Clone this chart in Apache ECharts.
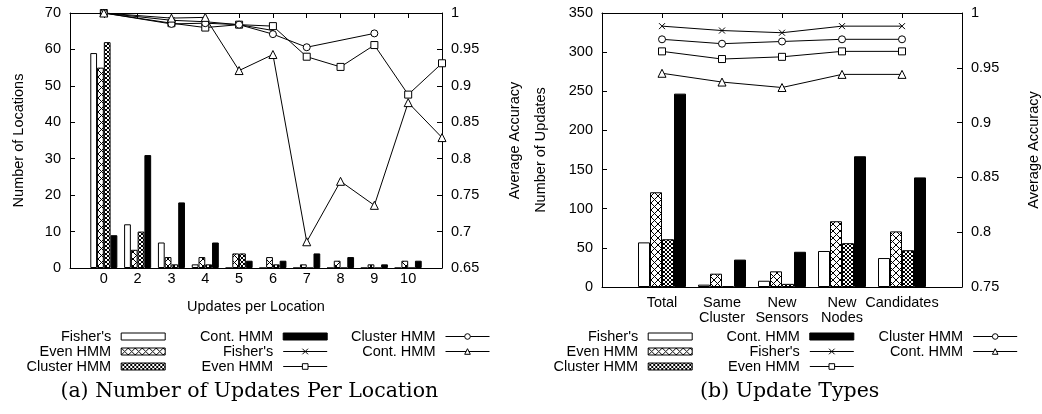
<!DOCTYPE html>
<html>
<head>
<meta charset="utf-8">
<script src="https://cdn.jsdelivr.net/npm/echarts@6/dist/echarts.min.js"></script>
<style>
  html, body { margin: 0; padding: 0; background: #fff; }
  #chart { width: 1042px; height: 414px; }
</style>
</head>
<body>
<div id="chart"></div>
<script>
// (a) Number of updates per location
const updateLabels = ['', '0', '2', '3', '4', '5', '6', '7', '8', '9', '10', ''];
const locFisher  = [null, 59, 12, 7, 1, 0, 0, 0, 0, 0, 0, null];
const locEven    = [null, 55, 5, 3, 3, 4, 3, 1, 2, 1, 2, null];
const locCluster = [null, 62, 10, 1, 1, 4, 1, 0, 0, 0, 0, null];
const locCont    = [null, 9, 31, 18, 7, 2, 2, 4, 3, 1, 2, null];
const accFisher  = [null, 1.0, null, 0.990, 0.988, 0.984, 0.976, null, null, null, null, null];
const accEven    = [null, 1.0, null, 0.986, 0.980, 0.984, 0.982, 0.940, 0.926, 0.956, 0.888, 0.931];
const accCluster = [null, 1.0, null, 0.985, 0.986, 0.984, 0.971, 0.953, null, 0.972, null, null];
const accCont    = [null, 1.0, null, 0.993, 0.994, 0.921, 0.943, 0.686, 0.769, 0.736, 0.877, 0.829];

// (b) Update types
const typeLabels = ['', 'Total', 'Same\nCluster', 'New\nSensors', 'New\nNodes', 'Candidates', ''];
const updFisher  = [null, 57, 3, 8, 46, 37, null];
const updEven    = [null, 121, 17, 20, 84, 71, null];
const updCluster = [null, 61, 1, 4, 56, 47, null];
const updCont    = [null, 247, 35, 45, 167, 140, null];
const typeAccFisher  = [null, 0.988, 0.984, 0.982, 0.988, 0.988, null];
const typeAccCluster = [null, 0.976, 0.972, 0.974, 0.976, 0.976, null];
const typeAccEven    = [null, 0.965, 0.958, 0.960, 0.965, 0.965, null];
const typeAccCont    = [null, 0.945, 0.937, 0.932, 0.944, 0.944, null];

const FONT = '"Liberation Sans", Arial, sans-serif';
const FS = 14.5;
const X_MARK = 'path://M0,0L10,10M10,0L0,10';

// crosshatch fills like the gnuplot patterns
function hatch(size, lw) {
  const c = document.createElement('canvas');
  c.width = size; c.height = size;
  const ctx = c.getContext('2d');
  ctx.fillStyle = '#fff';
  ctx.fillRect(0, 0, size, size);
  ctx.strokeStyle = '#000';
  ctx.lineWidth = lw;
  ctx.beginPath();
  for (const o of [-size, 0, size]) {
    ctx.moveTo(o, 0); ctx.lineTo(o + size, size);
    ctx.moveTo(o + size, 0); ctx.lineTo(o, size);
  }
  ctx.stroke();
  return { image: c, repeat: 'repeat' };
}
const evenFill = hatch(7, 1);
const clusterFill = hatch(4, 1);

const axisText = { color: '#000', fontFamily: FONT, fontSize: FS };
const blackLine = { show: true, lineStyle: { color: '#000', width: 1 } };

function bar(name, data, fill, axis) {
  return {
    type: 'bar', name, data, xAxisIndex: axis * 2, yAxisIndex: axis * 2,
    barGap: '0%', barCategoryGap: '20%', animation: false,
    itemStyle: { color: fill, borderColor: '#000', borderWidth: 1 }
  };
}
function line(name, data, symbol, size, axis) {
  return {
    type: 'line', name, data, xAxisIndex: axis * 2, yAxisIndex: axis * 2 + 1,
    connectNulls: true, symbol, symbolSize: size, showAllSymbol: true,
    clip: false, animation: false, z: 5,
    lineStyle: { color: '#000', width: 1 },
    itemStyle: { color: '#fff', borderColor: '#000', borderWidth: 1 }
  };
}

function xAxes(grid, labels, margin, name) {
  return [
    {
      gridIndex: grid, type: 'category', data: labels, boundaryGap: false, position: 'bottom',
      axisLine: blackLine, axisTick: { show: false }, splitLine: { show: false },
      axisLabel: { ...axisText, interval: 0, margin, lineHeight: 15.6 },
      name, nameLocation: 'middle', nameGap: 31, nameTextStyle: axisText
    },
    {
      gridIndex: grid, type: 'category', data: labels, boundaryGap: false, position: 'top',
      axisLine: blackLine, splitLine: { show: false }, axisLabel: { show: false },
      axisTick: { show: true, inside: true, length: 5, interval: 0, lineStyle: { color: '#000' } }
    }
  ];
}
function yAxis(grid, pos, min, max, step, name, gap) {
  return {
    gridIndex: grid, type: 'value', position: pos, min, max, interval: step,
    axisLine: blackLine, splitLine: { show: false },
    axisTick: { show: true, inside: true, length: 5, lineStyle: { color: '#000' } },
    axisLabel: { ...axisText, margin: 9 },
    name, nameLocation: 'middle', nameRotate: 90, nameGap: gap, nameTextStyle: axisText
  };
}

function legend(right, items) {
  return {
    orient: 'vertical', align: 'right', right, top: 329, padding: 0, itemGap: 0,
    itemWidth: 44, itemHeight: 7, selectedMode: false,
    itemStyle: { borderColor: '#000', borderWidth: 1 },
    lineStyle: { color: '#000', width: 1 },
    textStyle: { ...axisText, lineHeight: 15, padding: [0, 5, 0, 0] },
    formatter: n => n.split('|')[0],
    data: items.map(n => n.endsWith('bar') ? { name: n, icon: 'rect' } : { name: n })
  };
}

const chart = echarts.init(document.getElementById('chart'));
chart.setOption({
  backgroundColor: '#fff',
  animation: false,
  grid: [
    { left: 70, top: 13, width: 372, height: 255 },
    { left: 602, top: 13, width: 362, height: 274 }
  ],
  xAxis: [
    ...xAxes(0, updateLabels, 3, 'Updates per Location'),
    ...xAxes(1, typeLabels, 8, '')
  ],
  yAxis: [
    yAxis(0, 'left', 0, 70, 10, 'Number of Locations', 44),
    yAxis(0, 'right', 0.65, 1, 0.05, 'Average Accuracy', 65),
    yAxis(1, 'left', 0, 350, 50, 'Number of Updates', 54),
    yAxis(1, 'right', 0.75, 1, 0.05, 'Average Accuracy', 64)
  ],
  legend: [
    legend(876.3, ["Fisher's|a-bar", 'Even HMM|a-bar', 'Cluster HMM|a-bar']),
    legend(714.3, ['Cont. HMM|a-bar', "Fisher's|a-line", 'Even HMM|a-line']),
    legend(552, ['Cluster HMM|a-line', 'Cont. HMM|a-line']),
    legend(349.3, ["Fisher's|b-bar", 'Even HMM|b-bar', 'Cluster HMM|b-bar']),
    legend(187.7, ['Cont. HMM|b-bar', "Fisher's|b-line", 'Even HMM|b-line']),
    legend(24.3, ['Cluster HMM|b-line', 'Cont. HMM|b-line'])
  ],
  graphic: [
    { type: 'text', x: 249.3, y: 392, style: { text: '(a) Number of Updates Per Location', fontFamily: '"DejaVu Serif", serif', fontSize: 20.5, fill: '#000', align: 'center', verticalAlign: 'middle' } },
    { type: 'text', x: 789.7, y: 392, style: { text: '(b) Update Types', fontFamily: '"DejaVu Serif", serif', fontSize: 20.5, fill: '#000', align: 'center', verticalAlign: 'middle' } }
  ],
  series: [
    bar("Fisher's|a-bar", locFisher, '#fff', 0),
    bar('Even HMM|a-bar', locEven, evenFill, 0),
    bar('Cluster HMM|a-bar', locCluster, clusterFill, 0),
    bar('Cont. HMM|a-bar', locCont, '#000', 0),
    line("Fisher's|a-line", accFisher, X_MARK, 6, 0),
    line('Even HMM|a-line', accEven, 'rect', 7, 0),
    line('Cluster HMM|a-line', accCluster, 'circle', 7, 0),
    line('Cont. HMM|a-line', accCont, 'triangle', 8, 0),
    bar("Fisher's|b-bar", updFisher, '#fff', 1),
    bar('Even HMM|b-bar', updEven, evenFill, 1),
    bar('Cluster HMM|b-bar', updCluster, clusterFill, 1),
    bar('Cont. HMM|b-bar', updCont, '#000', 1),
    line("Fisher's|b-line", typeAccFisher, X_MARK, 6, 1),
    line('Even HMM|b-line', typeAccEven, 'rect', 7, 1),
    line('Cluster HMM|b-line', typeAccCluster, 'circle', 7, 1),
    line('Cont. HMM|b-line', typeAccCont, 'triangle', 8, 1)
  ]
});
</script>
</body>
</html>
